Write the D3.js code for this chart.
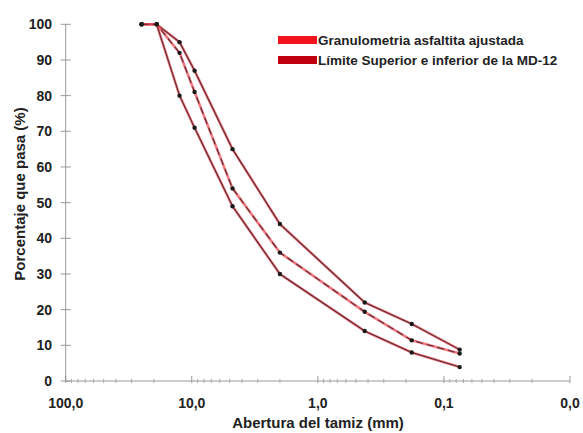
<!DOCTYPE html>
<html>
<head>
<meta charset="utf-8">
<script src="https://cdn.jsdelivr.net/npm/d3@7"></script>
<style>
  html, body { margin: 0; padding: 0; background: #fff; }
  svg text { font-family: "Liberation Sans", Arial, sans-serif; font-weight: bold; fill: #222; }
</style>
</head>
<body>
<svg id="chart" width="583" height="433"></svg>
<script>
// sieve openings (mm) and percent passing
const sieves = [25, 19, 12.5, 9.5, 4.75, 2.0, 0.425, 0.18, 0.075]
const upperLimit = [100, 100, 95, 87, 65, 44, 22, 16, 8.8]
const lowerLimit = [100, 100, 80, 71, 49, 30, 14, 8, 3.9]
const adjusted = [100, 100, 92, 81, 54, 36, 19.4, 11.4, 7.7]

const xTicks = [100, 10, 1, 0.1, 0.01]
const yTicks = [0, 10, 20, 30, 40, 50, 60, 70, 80, 90, 100]

const legendLabels = ['Granulometria asfaltita ajustada', 'Límite Superior e inferior de la MD-12']
const legendColors = ['#f2141c', '#c0000c']

const svg = d3.select('#chart')

const x = d3.scaleLog()
.domain([100, 0.01])
.range([65.7, 570])

const y = d3.scaleLinear()
.domain([0, 100])
.range([381, 24.3])

const fmt = d => d.toFixed(1).replace('.', ',')

// y axis
const yAxis = svg.append('g')
yAxis.append('line')
.attr('x1', x(100)).attr('x2', x(100))
.attr('y1', y(0)).attr('y2', y(100))
.attr('stroke', '#999').attr('stroke-width', 1)

yAxis.selectAll('.yt')
.data(yTicks)
.enter()
.append('line')
.attr('x1', x(100) - 5).attr('x2', x(100) + 5)
.attr('y1', d => y(d)).attr('y2', d => y(d))
.attr('stroke', '#999')

yAxis.selectAll('.yl')
.data(yTicks)
.enter()
.append('text')
.attr('x', 52)
.attr('y', d => y(d) + 5)
.attr('text-anchor', 'end')
.style('font-size', '14px')
.text(d => d)

svg.append('text')
.attr('transform', 'translate(25,194) rotate(-90)')
.attr('text-anchor', 'middle')
.style('font-size', '15px')
.text('Porcentaje que pasa (%)')

// x axis
const xAxis = svg.append('g')
xAxis.append('line')
.attr('x1', x(100)).attr('x2', x(0.01))
.attr('y1', y(0)).attr('y2', y(0))
.attr('stroke', '#999')

const minor = []
xTicks.slice(0, -1).forEach(t => {
	for (let k = 2; k <= 9; k++) minor.push(t * k / 10)
})

xAxis.selectAll('.xm')
.data(minor)
.enter()
.append('line')
.attr('x1', d => x(d)).attr('x2', d => x(d))
.attr('y1', y(0) - 2).attr('y2', y(0) + 2)
.attr('stroke', '#aaa')

xAxis.selectAll('.xt')
.data(xTicks)
.enter()
.append('line')
.attr('x1', d => x(d)).attr('x2', d => x(d))
.attr('y1', y(0) - 5).attr('y2', y(0) + 2)
.attr('stroke', '#999')

xAxis.selectAll('.xl')
.data(xTicks)
.enter()
.append('text')
.attr('x', d => x(d))
.attr('y', 408)
.attr('text-anchor', 'middle')
.style('font-size', '14px')
.text(fmt)

svg.append('text')
.attr('x', 318)
.attr('y', 428)
.attr('text-anchor', 'middle')
.style('font-size', '15px')
.text('Abertura del tamiz (mm)')

// curves
const line = d3.line()
.x((d, i) => x(sieves[i]))
.y(d => y(d))

const series = [
	{ values: upperLimit, dash: null },
	{ values: lowerLimit, dash: null },
	{ values: adjusted, dash: '7,4' }
]

series.forEach(s => {
	svg.append('path')
	.attr('d', line(s.values))
	.attr('fill', 'none')
	.attr('stroke', '#ee4b58')
	.attr('stroke-width', 2.6)
	.attr('stroke-opacity', 0.75)

	svg.append('path')
	.attr('d', line(s.values))
	.attr('fill', 'none')
	.attr('stroke', '#5a2a30')
	.attr('stroke-width', 1.1)
	.attr('stroke-dasharray', s.dash)

	svg.append('g')
	.selectAll('circle')
	.data(s.values)
	.enter()
	.append('circle')
	.attr('cx', (d, i) => x(sieves[i]))
	.attr('cy', d => y(d))
	.attr('r', 2.2)
	.attr('fill', '#1a1a1a')
})

// legend
const leg = svg.append('g')
legendLabels.forEach((lab, i) => {
	leg.append('rect')
	.attr('x', 278).attr('y', 36 + i * 20)
	.attr('width', 39).attr('height', 8)
	.attr('fill', legendColors[i])

	leg.append('text')
	.attr('x', 318).attr('y', 45 + i * 20)
	.style('font-size', '13.5px')
	.text(lab)
})
</script>
</body>
</html>
